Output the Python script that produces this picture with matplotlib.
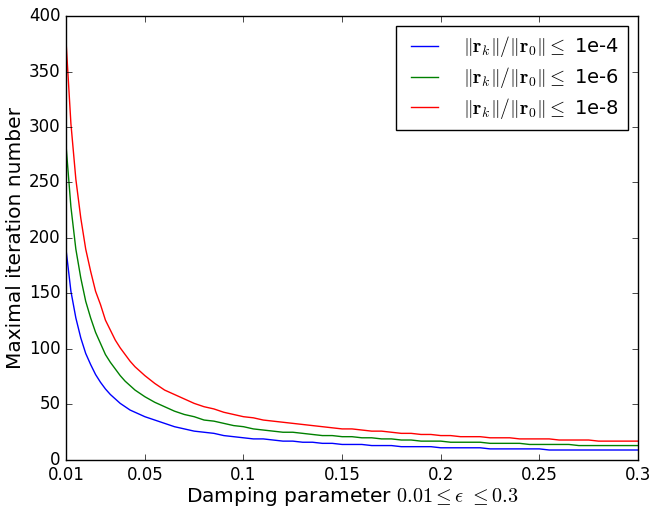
import numpy as np
import matplotlib
matplotlib.use('Agg')
import matplotlib.pyplot as plt

# ---------------------------------------------------------------------------------------------------------------------
# data: damping parameter eps and maximal iteration counts per tolerance
eps = [0.0100, 0.0125, 0.0150, 0.0175, 0.0200, 0.0225, 0.0250, 0.0275, 0.0300, 0.0325,
       0.0350, 0.0375, 0.0400, 0.0425, 0.0450, 0.0475, 0.050, 0.055,
       0.060, 0.065, 0.070, 0.075, 0.080, 0.085, 0.090, 0.095, 0.100, 0.105,
       0.110, 0.115, 0.120, 0.125, 0.130, 0.135, 0.140, 0.145, 0.150, 0.155,
       0.160, 0.165, 0.170, 0.175, 0.180, 0.185, 0.190, 0.195, 0.200, 0.205,
       0.210, 0.215, 0.220, 0.225, 0.230, 0.235, 0.240, 0.245, 0.250, 0.255,
       0.260, 0.265, 0.270, 0.275, 0.280, 0.285, 0.290, 0.295, 0.300]

iters_1e4 = [190, 152, 128, 110, 96, 86, 77, 70, 64, 59,
             55, 51, 48, 45, 43, 41, 39, 36,
             33, 30, 28, 26, 25, 24, 22, 21, 20, 19,
             19, 18, 17, 17, 16, 16, 15, 15, 14, 14,
             14, 13, 13, 13, 12, 12, 12, 12, 11, 11,
             11, 11, 11, 10, 10, 10, 10, 10, 10, 9,
             9, 9, 9, 9, 9, 9, 9, 9, 9]

iters_1e6 = [284, 228, 190, 164, 143, 128, 115, 105, 95, 88,
             82, 76, 71, 67, 63, 60, 57, 52,
             48, 44, 41, 39, 36, 35, 33, 31, 30, 28,
             27, 26, 25, 25, 24, 23, 22, 22, 21, 21,
             20, 20, 19, 19, 18, 18, 17, 17, 17, 16,
             16, 16, 16, 15, 15, 15, 15, 14, 14, 14,
             14, 14, 13, 13, 13, 13, 13, 13, 13]

iters_1e8 = [378, 303, 253, 218, 190, 170, 152, 140, 126, 117,
             108, 101, 95, 89, 84, 80, 76, 69,
             63, 59, 55, 51, 48, 46, 43, 41, 39, 38,
             36, 35, 34, 33, 32, 31, 30, 29, 28, 28,
             27, 26, 26, 25, 24, 24, 23, 23, 22, 22,
             21, 21, 21, 20, 20, 20, 19, 19, 19, 19,
             18, 18, 18, 18, 17, 17, 17, 17, 17]

labels = [r'$\|\mathbf{r}_k\|/\|\mathbf{r}_0\| \leq$ 1e-4',
          r'$\|\mathbf{r}_k\|/\|\mathbf{r}_0\| \leq$ 1e-6',
          r'$\|\mathbf{r}_k\|/\|\mathbf{r}_0\| \leq$ 1e-8']
colors = ['b', 'g', 'r']

xticks = [0.01, 0.05, 0.1, 0.15, 0.2, 0.25, 0.3]
xticklabels = ['0.01', '0.05', '0.1', '0.15', '0.2', '0.25', '0.3']

# ---------------------------------------------------------------------------------------------------------------------
# old-style matplotlib look
plt.style.use('classic')
plt.rcParams['figure.facecolor'] = 'white'
plt.rcParams['savefig.facecolor'] = 'white'

fig = plt.figure(figsize=(6.52, 5.08), dpi=100)
ax = fig.add_axes([0.1012, 0.0945, 0.8773, 0.874])

for y, c, lab in zip([iters_1e4, iters_1e6, iters_1e8], colors, labels):
    ax.plot(eps, y, color=c, linewidth=1.0, label=lab)

ax.set_xlim(0.01, 0.3)
ax.set_ylim(0, 400)
ax.set_xticks(xticks)
ax.set_xticklabels(xticklabels)
ax.tick_params(labelsize=12)

ax.set_xlabel(r'Damping parameter $0.01\leq\epsilon\ \leq 0.3$', fontsize=14.5, labelpad=1)
ax.set_ylabel('Maximal iteration number', fontsize=14.5, labelpad=3)

ax.legend(loc='upper right', fontsize=14, frameon=True, fancybox=False, shadow=False,
          labelspacing=0.3, handletextpad=1.0, borderpad=0.45)

fig.savefig('out.png', dpi=100)
